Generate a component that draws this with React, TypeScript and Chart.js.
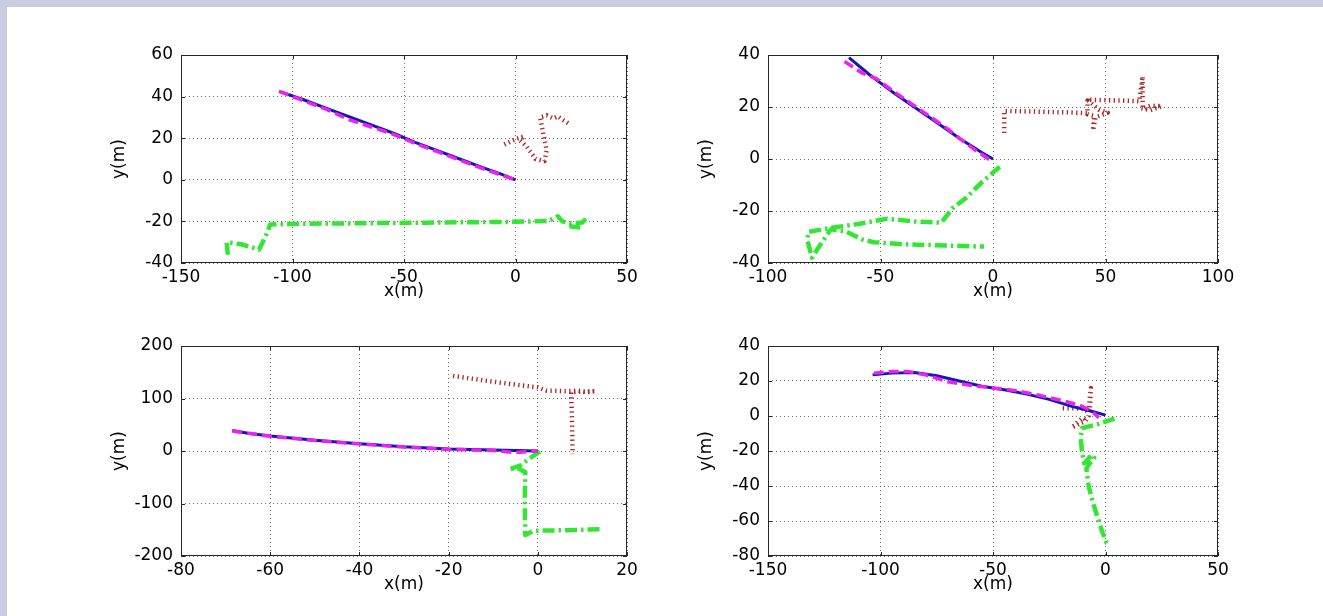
import React, { useEffect, useRef } from "react";
import { Chart, registerables } from "chart.js";

Chart.register(...registerables);

// ---------- data ----------
// axis limits / tick steps per subplot (top-left, top-right, bottom-left, bottom-right)
const xLimits = [[-150, 50], [-100, 100], [-80, 20], [-150, 50]];
const yLimits = [[-40, 60], [-40, 40], [-200, 200], [-80, 40]];
const xSteps = [50, 50, 20, 50];
const ySteps = [20, 20, 100, 20];
const xTitle = "x(m)";
const yTitle = "y(m)";

// subplot 1 (top-left)
const p1Blue = [[-106, 42.5], [-95, 38.5], [-85, 34.5], [-75, 30.5], [-65, 26.5], [-55, 22.5], [-45, 18], [-35, 14], [-25, 10], [-15, 6], [-7, 3], [0, 0]];
const p1Magenta = [[-106, 42.5], [-95, 38], [-85, 34], [-75, 29], [-65, 25.5], [-55, 22], [-45, 17.5], [-35, 13.5], [-25, 9.5], [-15, 5.5], [-7, 2.5], [0, 0]];
const p1Red = [[-5, 17], [0, 19.5], [4, 21], [2, 19], [5, 16], [9, 10], [13, 9], [14, 14], [12.5, 22], [11, 30], [14, 31], [17, 29.5], [19, 30.5], [21, 29], [24, 27]];
const p1Green = [[-129, -36], [-129.5, -30], [-123, -31], [-115, -33.5], [-112, -27], [-110, -21.5], [-100, -21.2], [-80, -21], [-60, -20.8], [-40, -20.6], [-20, -20.4], [0, -20.2], [15, -19.8], [19, -17.5], [21, -20], [25, -21], [30, -20.5], [31, -19.5], [28, -21], [25, -22.5], [29, -23]];

// subplot 2 (top-right)
const p2Blue = [[-64, 39], [-55, 32.5], [-45, 26], [-35, 20], [-25, 14], [-15, 8], [-5, 2.5], [0, 0]];
const p2Magenta = [[-66, 37.5], [-58, 33], [-52, 31], [-45, 26.5], [-35, 20.5], [-25, 14.5], [-20, 11.5], [-15, 8], [-8, 3.5], [-2, 0], [0, -0.5]];
const p2Red = [[5, 10], [5, 18.5], [15, 18.3], [25, 18.1], [35, 17.9], [42, 17.6], [42, 22.5], [42, 17.2], [45, 16.5], [44.5, 11], [45.5, 16], [51, 17.8], [47, 19], [42, 22.8], [52, 22.6], [60, 22.4], [65, 22.2], [66.5, 31.8], [66.5, 19.5], [70, 20.5], [75, 20.3], [70, 18.8], [66, 19.5]];
const p2Green = [[3, -3], [-5, -9], [-12, -15], [-18, -19], [-23, -24.5], [-35, -24], [-47, -23], [-60, -25], [-72, -26.5], [-82, -28], [-82.5, -31], [-80.5, -38], [-76, -32], [-72, -27], [-65, -28], [-58, -31], [-53, -32], [-40, -32.8], [-20, -33.3], [-4, -33.7]];

// subplot 3 (bottom-left)
const p3Blue = [[-68.5, 39], [-65, 34], [-60, 28.5], [-50, 20.5], [-40, 14], [-30, 8], [-20, 4], [-10, 2], [0, 0]];
const p3Magenta = [[-68.5, 38], [-60, 28], [-50, 20], [-40, 13.5], [-30, 7.5], [-20, 3], [-10, 1], [-5, -3], [0, 0]];
const p3Red = [[-19, 143], [-10, 132], [0, 121], [2, 115], [6, 114], [9, 115], [11, 112], [13, 114], [10, 113], [7.5, 112], [7.5, 100], [7.7, 50], [7.8, -6]];
const p3Green = [[0.5, -1], [-2, -15], [-4, -28], [-6.5, -35], [-4.5, -33], [-2.8, -40], [-2.9, -80], [-2.9, -120], [-2.8, -160], [-1, -152], [5, -151], [10, -150], [14, -149]];

// subplot 4 (bottom-right)
const p4Blue = [[-103.5, 23.5], [-95, 24.5], [-85, 24.8], [-75, 23], [-65, 20], [-55, 17], [-45, 15], [-35, 12.5], [-25, 9.5], [-15, 5.5], [-7, 3], [0, 0.5]];
const p4Magenta = [[-103, 24.5], [-95, 25.5], [-88, 25.5], [-80, 23.5], [-70, 19.5], [-60, 17.5], [-50, 16], [-40, 14.5], [-30, 12], [-20, 9], [-12, 6.5], [-8, 4], [-5, 1.5], [-3, -1]];
const p4Red = [[-19, 4.5], [-14, 4.5], [-10, 4], [-7, 2], [-6.5, 16], [-7, 10], [-7.5, 0], [-9, -3], [-11, -4], [-13, -5.5], [-15, -6.5], [-12, -3], [-10, -1], [-8, -3]];
const p4Green = [[4, -1.5], [-3, -4.5], [-10.5, -7], [-11, -12], [-10.5, -20], [-9.5, -27], [-8, -25], [-6, -22], [-5, -24], [-7, -27], [-8.5, -30], [-7.5, -40], [-5.5, -50], [-3.5, -58], [-1.5, -66], [0.5, -72.5], [2, -73.5]];

const seriesSets = [
  [p1Blue, p1Magenta, p1Red, p1Green],
  [p2Blue, p2Magenta, p2Red, p2Green],
  [p3Blue, p3Magenta, p3Red, p3Green],
  [p4Blue, p4Magenta, p4Red, p4Green],
];

// ---------- layout / style ----------
const FONT = "'DejaVu Sans', 'Liberation Sans', Arial, sans-serif";
const FONT_SIZE = 17;
const Y_W = 76;
const X_H = 42;
const PAD_T = 20;
const PAD_R = 30;

const boxes = [
  { left: 181, top: 55, w: 446, h: 208 },
  { left: 768, top: 55, w: 450, h: 208 },
  { left: 181, top: 346, w: 446, h: 210 },
  { left: 768, top: 346, w: 450, h: 210 },
];

const styles = [
  { color: "#1616b4", width: 3, dash: [] as number[], order: 1 },
  { color: "#ee22ee", width: 3.5, dash: [10, 5], order: 0 },
  { color: "#a82828", width: 4.5, dash: [1.3, 3.4], order: 2 },
  { color: "#33e633", width: 4.5, dash: [12, 4, 2.5, 4], order: 3 },
];

const boxPlugin = {
  id: "matlabBox",
  beforeDatasetsDraw(chart: any) {
    const { ctx, chartArea: a, scales } = chart;
    ctx.save();
    ctx.strokeStyle = "#262626";
    ctx.lineWidth = 1;
    ctx.setLineDash([]);
    ctx.strokeRect(a.left + 0.5, a.top + 0.5, a.right - a.left - 1, a.bottom - a.top - 1);
    const tl = 4;
    ctx.beginPath();
    for (const t of scales.x.ticks) {
      const px = Math.round(scales.x.getPixelForValue(t.value)) + 0.5;
      ctx.moveTo(px, a.bottom);
      ctx.lineTo(px, a.bottom - tl);
      ctx.moveTo(px, a.top);
      ctx.lineTo(px, a.top + tl);
    }
    for (const t of scales.y.ticks) {
      const py = Math.round(scales.y.getPixelForValue(t.value)) + 0.5;
      ctx.moveTo(a.left, py);
      ctx.lineTo(a.left + tl, py);
      ctx.moveTo(a.right, py);
      ctx.lineTo(a.right - tl, py);
    }
    ctx.stroke();
    ctx.restore();
  },
};

function Subplot({ idx }: { idx: number }) {
  const ref = useRef<HTMLCanvasElement>(null);
  const b = boxes[idx];
  const cw = Y_W + b.w + PAD_R;
  const ch = PAD_T + b.h + X_H;

  useEffect(() => {
    if (!ref.current) return;
    const datasets = seriesSets[idx].map((pts, i) => ({
      data: pts.map(([x, y]) => ({ x, y })),
      showLine: true,
      borderColor: styles[i].color,
      backgroundColor: styles[i].color,
      borderWidth: styles[i].width,
      borderDash: styles[i].dash,
      borderCapStyle: "butt" as const,
      borderJoinStyle: "round" as const,
      pointRadius: 0,
      pointHoverRadius: 0,
      tension: 0,
      fill: false,
      order: styles[i].order,
    }));
    const tickFont = { family: FONT, size: FONT_SIZE };
    const chart = new Chart(ref.current, {
      type: "scatter",
      data: { datasets },
      options: {
        responsive: false,
        animation: false,
        events: [],
        layout: { padding: { top: PAD_T, right: PAD_R, left: 0, bottom: 0 } },
        plugins: { legend: { display: false }, tooltip: { enabled: false } },
        scales: {
          x: {
            type: "linear",
            min: xLimits[idx][0],
            max: xLimits[idx][1],
            ticks: { stepSize: xSteps[idx], color: "#000", font: tickFont, padding: 4, maxRotation: 0 },
            grid: { color: "rgba(60,60,60,0.75)", lineWidth: 1, drawTicks: false },
            border: { display: false, dash: [1, 3] },
            title: { display: true, text: xTitle, color: "#000", font: tickFont, padding: { top: 0, bottom: 3 } },
            afterFit: (s: any) => { s.height = X_H; },
          },
          y: {
            type: "linear",
            min: yLimits[idx][0],
            max: yLimits[idx][1],
            ticks: { stepSize: ySteps[idx], color: "#000", font: tickFont, padding: 8 },
            grid: { color: "rgba(60,60,60,0.75)", lineWidth: 1, drawTicks: false },
            border: { display: false, dash: [1, 3] },
            title: { display: true, text: yTitle, color: "#000", font: tickFont, padding: { top: 4, bottom: 0 } },
            afterFit: (s: any) => { s.width = Y_W; },
          },
        },
      },
      plugins: [boxPlugin],
    } as any);
    return () => chart.destroy();
  }, [idx]);

  return (
    <canvas
      ref={ref}
      width={cw}
      height={ch}
      style={{ position: "absolute", left: b.left - Y_W, top: b.top - PAD_T, width: cw, height: ch }}
    />
  );
}

export default function App() {
  return (
    <div
      style={{
        position: "fixed",
        left: 0,
        top: 0,
        width: 1323,
        height: 616,
        background: "#c9cde2",
        overflow: "hidden",
      }}
    >
      <div style={{ position: "absolute", left: 7, top: 7, right: 0, bottom: 0, background: "#ffffff" }} />
      {[0, 1, 2, 3].map((i) => (
        <Subplot key={i} idx={i} />
      ))}
    </div>
  );
}
